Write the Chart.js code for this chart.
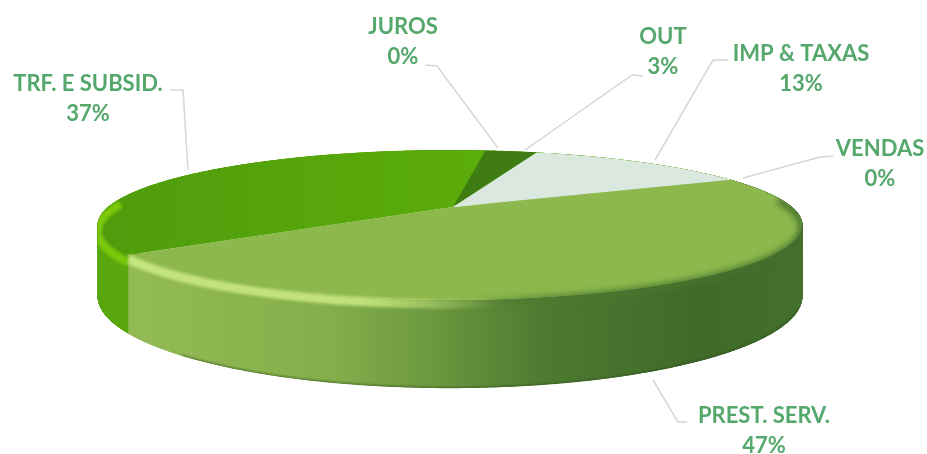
<!DOCTYPE html>
<html>
<head>
<meta charset="utf-8">
<title>Receitas</title>
<script src="https://cdn.jsdelivr.net/npm/chart.js@4"></script>
<style>
    html, body { margin: 0; padding: 0; background: #fff; }
    #wrap { width: 927px; height: 454px; }
    #pie3d { filter: blur(0.5px); }
</style>
</head>
<body>
<div id="wrap"><canvas id="pie3d"></canvas></div>
<script>
const categories = ["VENDAS", "PREST. SERV.", "TRF. E SUBSID.", "JUROS", "OUT", "IMP & TAXAS"];
const shares = [0, 47, 37, 0, 3, 13];
const sliceColors = ["#8db84d", "#8db84d", "#55a50c", "#55a50c", "#3f7d14", "#dbe8e0"];

// perspective of the disc: k is how much nearer the front edge is
const view = { cx: 450, cy: 207, rx: 342, ry: 70.7, k: 0.24, depth: 67 };

function project(angle, drop) {
    const w = 1 - view.k * Math.sin(angle);
    return {
        x: view.cx + view.rx * Math.cos(angle) / w,
        y: view.cy + (view.ry * Math.sin(angle) + drop) / w
    };
}

function tracePerimeter(ctx, from, to, drop, moveFirst) {
    const steps = Math.max(2, Math.ceil(Math.abs(to - from) / 0.01));
    for (let i = 0; i <= steps; i++) {
        const p = project(from + (to - from) * i / steps, drop);
        if (i === 0 && moveFirst) ctx.moveTo(p.x, p.y);
        else ctx.lineTo(p.x, p.y);
    }
}

// outline of the whole drum, used to keep the soft rims inside it
function traceOutline(ctx) {
    const right = Math.asin(view.k);
    const left = Math.PI - right;
    tracePerimeter(ctx, right, left - 2 * Math.PI, 0, true);
    tracePerimeter(ctx, left, right, view.depth, false);
    ctx.closePath();
}

function sideFill(ctx, index) {
    if (index !== 1) return "#5aa811";
    const g = ctx.createLinearGradient(130, 0, 800, 0);
    g.addColorStop(0, "#93bb55");
    g.addColorStop(0.3, "#84ae4a");
    g.addColorStop(0.46, "#6a963e");
    g.addColorStop(0.62, "#4d7a30");
    g.addColorStop(0.85, "#3f6a2a");
    g.addColorStop(1, "#43702c");
    return g;
}

function topFill(ctx, index, color) {
    if (index !== 2) return color;
    const g = ctx.createLinearGradient(100, 0, 500, 0);
    g.addColorStop(0, "#4f9c0d");
    g.addColorStop(1, "#5cae0a");
    return g;
}

const pie3d = {
    id: "pie3d",
    beforeDatasetsDraw(chart) {
        const ctx = chart.ctx;
        const arcs = chart.getDatasetMeta(0).data;

        ctx.save();
        ctx.beginPath();
        traceOutline(ctx);
        ctx.clip();

        // walls first, the top face covers whatever is behind it
        arcs.forEach((arc, i) => {
            if (arc.endAngle === arc.startAngle) return;
            ctx.strokeStyle = sideFill(ctx, i);
            ctx.lineWidth = 2;
            for (let a = arc.startAngle; a < arc.endAngle; a += 0.002) {
                const up = project(a, 0);
                const down = project(a, view.depth);
                ctx.beginPath();
                ctx.moveTo(up.x, up.y);
                ctx.lineTo(down.x, down.y);
                ctx.stroke();
            }
        });

        // top face
        arcs.forEach((arc, i) => {
            if (arc.endAngle === arc.startAngle) return;
            ctx.beginPath();
            ctx.moveTo(view.cx + 3, view.cy);
            tracePerimeter(ctx, arc.startAngle, arc.endAngle, 0, false);
            ctx.closePath();
            ctx.fillStyle = topFill(ctx, i, arc.options.backgroundColor);
            ctx.fill();
        });

        // soft rim where the top face bends into the wall
        const front = arcs[1];
        ctx.filter = "blur(3px)";
        ctx.beginPath();
        tracePerimeter(ctx, front.startAngle + 0.3, front.endAngle, 2, true);
        const dark = ctx.createLinearGradient(130, 0, 800, 0);
        dark.addColorStop(0, "rgba(77,122,48,0)");
        dark.addColorStop(0.5, "rgba(77,122,48,0)");
        dark.addColorStop(0.62, "rgba(77,122,48,0.9)");
        dark.addColorStop(1, "rgba(66,110,44,0.9)");
        ctx.strokeStyle = dark;
        ctx.lineWidth = 8;
        ctx.stroke();

        ctx.filter = "blur(1.5px)";
        ctx.beginPath();
        tracePerimeter(ctx, front.startAngle + 0.9, front.endAngle, 3, true);
        const light = ctx.createLinearGradient(130, 0, 800, 0);
        light.addColorStop(0, "rgba(196,228,126,1)");
        light.addColorStop(0.35, "rgba(196,228,126,0.95)");
        light.addColorStop(0.55, "rgba(196,228,126,0)");
        ctx.strokeStyle = light;
        ctx.lineWidth = 9;
        ctx.stroke();

        const left = arcs[2];
        ctx.beginPath();
        tracePerimeter(ctx, left.startAngle, left.startAngle + 0.75, 6, true);
        ctx.strokeStyle = "#7cc80a";
        ctx.lineWidth = 8;
        ctx.stroke();

        // dark foot of the wall
        ctx.filter = "blur(0.8px)";
        ctx.beginPath();
        tracePerimeter(ctx, front.startAngle + 0.8, front.endAngle - 0.25, view.depth, true);
        ctx.strokeStyle = "rgba(50,80,30,0.75)";
        ctx.lineWidth = 2;
        ctx.stroke();
        ctx.restore();

        return false;
    },
    afterDraw(chart) {
        const ctx = chart.ctx;
        // one entry per category: label centre, then the leader line
        const placed = [
            { x: 880, y: 149, line: [[833, 156], [820, 157], [743, 178]] },
            { x: 764, y: 416, line: [[687, 422], [678, 422], [653, 380]] },
            { x: 88, y: 84, line: [[170, 90], [183, 90], [188, 170]] },
            { x: 403, y: 27, line: [[425, 65], [437, 66], [498, 148]] },
            { x: 663, y: 37, line: [[643, 76], [632, 75], [525, 150]] },
            { x: 801, y: 54, line: [[728, 60], [713, 60], [655, 160]] }
        ];

        ctx.save();
        ctx.strokeStyle = "#d6d6d6";
        ctx.lineWidth = 1.5;
        placed.forEach(item => {
            ctx.beginPath();
            item.line.forEach((pt, i) => i ? ctx.lineTo(pt[0], pt[1]) : ctx.moveTo(pt[0], pt[1]));
            ctx.stroke();
        });

        ctx.fillStyle = "#55a86c";
        ctx.font = "bold 22px Lato";
        ctx.textAlign = "center";
        ctx.textBaseline = "middle";
        placed.forEach((item, i) => {
            ctx.fillText(categories[i], item.x, item.y);
            ctx.fillText(shares[i] + "%", item.x, item.y + 30);
        });
        ctx.restore();
    }
};

new Chart(document.getElementById("pie3d"), {
    type: "pie",
    data: {
        labels: categories,
        datasets: [{
            data: shares,
            backgroundColor: sliceColors,
            borderWidth: 0
        }]
    },
    options: {
        responsive: true,
        maintainAspectRatio: false,
        animation: false,
        rotation: 65,
        plugins: {
            legend: { display: false },
            tooltip: { enabled: false }
        }
    },
    plugins: [pie3d]
});
</script>
</body>
</html>
